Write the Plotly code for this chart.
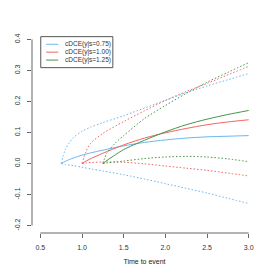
import plotly.graph_objects as go

# ---- data ----
series_names = ["cDCE(y|s=0.75)", "cDCE(y|s=1.00)", "cDCE(y|s=1.25)"]
series_colors = ["#6CB6EE", "#F06464", "#4A944A"]

t_blue = [0.75, 0.8, 0.85, 0.9, 1.0, 1.1, 1.25, 1.5, 1.75, 2.0, 2.25, 2.5, 2.75, 3.0]
est_blue = [0.0, 0.007, 0.013, 0.018, 0.027, 0.034, 0.043, 0.057, 0.068, 0.076, 0.082, 0.086, 0.088, 0.090]
up_blue = [0.0, 0.045, 0.068, 0.084, 0.104, 0.117, 0.132, 0.154, 0.179, 0.204, 0.228, 0.25, 0.27, 0.29]
lo_blue = [0.0, -0.003, -0.005, -0.007, -0.012, -0.017, -0.024, -0.036, -0.05, -0.065, -0.08, -0.095, -0.112, -0.129]

t_red = [1.0, 1.05, 1.1, 1.25, 1.5, 1.75, 2.0, 2.25, 2.5, 2.75, 3.0]
est_red = [0.0, 0.008, 0.015, 0.033, 0.060, 0.082, 0.099, 0.113, 0.125, 0.134, 0.141]
up_red = [0.0, 0.04, 0.064, 0.097, 0.135, 0.17, 0.203, 0.232, 0.258, 0.286, 0.313]
lo_red = [0.0, 0.002, 0.003, 0.005, 0.004, -0.001, -0.008, -0.015, -0.022, -0.031, -0.040]

t_green = [1.25, 1.3, 1.4, 1.5, 1.75, 2.0, 2.25, 2.5, 2.75, 3.0]
est_green = [0.0, 0.01, 0.028, 0.045, 0.075, 0.102, 0.125, 0.143, 0.158, 0.171]
up_green = [0.0, 0.034, 0.066, 0.09, 0.145, 0.187, 0.226, 0.262, 0.294, 0.325]
lo_green = [0.0, 0.002, 0.005, 0.008, 0.016, 0.021, 0.023, 0.021, 0.015, 0.006]

x_ticks = [0.5, 1.0, 1.5, 2.0, 2.5, 3.0]
y_ticks = [-0.2, -0.1, 0.0, 0.1, 0.2, 0.3, 0.4]
x_title = "Time to event"

groups = [
    (t_blue, est_blue, up_blue, lo_blue),
    (t_red, est_red, up_red, lo_red),
    (t_green, est_green, up_green, lo_green),
]

fig = go.Figure()
for (t, e, u, l), name, col in zip(groups, series_names, series_colors):
    fig.add_trace(go.Scatter(x=t, y=e, mode="lines", name=name,
                             line=dict(color=col, width=1.0, shape="spline", smoothing=0.8),
                             showlegend=False))
    for band in (u, l):
        fig.add_trace(go.Scatter(x=t, y=band, mode="lines", showlegend=False,
                                 line=dict(color=col, width=1.0, dash="1.5px,2px",
                                           shape="spline", smoothing=0.8)))

axis_col = "#666666"
font_col = "#333333"
# the page body adds an 8px offset, so the figure is 265px and margins compensate
fig.update_layout(
    width=265, height=265,
    margin=dict(l=24, r=16.4, t=23.5, b=40, autoexpand=False),
    paper_bgcolor="white", plot_bgcolor="white",
    font=dict(family="Liberation Sans, Arial, sans-serif", size=7, color=font_col),
    showlegend=False,
    xaxis=dict(range=[0.4, 3.1], tickvals=x_ticks, ticktext=[f"{v:.1f}" for v in x_ticks],
               showgrid=False, zeroline=False, showline=False, automargin=False,
               ticks="outside", ticklen=4, tickcolor=axis_col, tickwidth=1,
               ticklabelstandoff=4,
               title=dict(text=x_title, font=dict(size=7, color="#222222"), standoff=8)),
    yaxis=dict(range=[-0.224, 0.424], tickvals=y_ticks, ticktext=[f"{v:.1f}" for v in y_ticks],
               showgrid=False, zeroline=False, showline=False, tickangle=-90, automargin=False,
               ticks="outside", ticklen=4, tickcolor=axis_col, tickwidth=1,
               ticklabelstandoff=4),
)

# axis lines spanning first to last tick (R style)
fig.add_shape(type="line", xref="x", yref="paper", x0=x_ticks[0], x1=x_ticks[-1], y0=0, y1=0,
              line=dict(color=axis_col, width=1))
fig.add_shape(type="line", xref="paper", yref="y", x0=0, x1=0, y0=y_ticks[0], y1=y_ticks[-1],
              line=dict(color=axis_col, width=1))

# legend box drawn manually (R legend style)
fig.add_shape(type="rect", xref="x", yref="y", x0=0.505, x1=1.37, y0=0.309, y1=0.409,
              line=dict(color="#555555", width=1), fillcolor="white")
for i, (name, col) in enumerate(zip(series_names, series_colors)):
    yy = 0.3845 - i * 0.0255
    fig.add_shape(type="line", xref="x", yref="y", x0=0.57, x1=0.715, y0=yy, y1=yy,
                  line=dict(color=col, width=1.0))
    fig.add_annotation(x=0.77, y=yy, xref="x", yref="y", text=name, showarrow=False,
                       xanchor="left", yanchor="middle", font=dict(size=6.5, color="#333333"))

fig.write_html("out.html")
